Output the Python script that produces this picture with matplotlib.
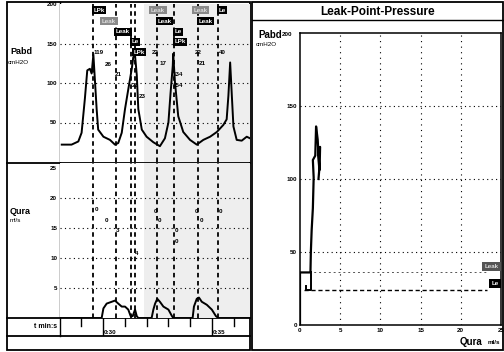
import matplotlib
matplotlib.use("Agg")
import matplotlib.pyplot as plt
from matplotlib.patches import Rectangle
from matplotlib.transforms import blended_transform_factory

W, H = 504, 352
plt.rcParams["font.family"] = ["Liberation Sans", "DejaVu Sans"]
plt.rcParams["font.weight"] = "bold"

# time axis (s) and abdominal pressure trace (cmH2O)
pabd_t = [28.11, 28.56, 28.87, 29.02, 29.17, 29.28, 29.40, 29.48, 29.56, 29.71,
          29.78, 30.02, 30.32, 30.55, 30.70, 30.86, 31.01, 31.16, 31.32, 31.39,
          31.47, 31.55, 31.62, 31.78, 32.00, 32.31, 32.61, 32.84, 33.00, 33.10,
          33.20, 33.22, 33.30, 33.45, 33.68, 33.99, 34.30, 34.60, 34.91, 35.22,
          35.52, 35.67, 35.75, 35.83, 35.90, 35.98, 36.13, 36.36, 36.59, 36.74]
pabd_v = [22, 22, 26, 37, 80, 116, 118, 112, 136, 67,
          41, 32, 28, 22, 24, 37, 67, 92, 118, 133,
          135, 110, 67, 41, 32, 25, 20, 30, 50, 88,
          122, 137, 101, 58, 38, 28, 22, 28, 32, 38,
          47, 54, 84, 126, 88, 45, 28, 27, 32, 30]

# urine flow trace (ml/s)
qura_t = [28.03, 29.94, 30.02, 30.17, 30.40, 30.55, 30.70, 30.86, 31.01, 31.16,
          31.27, 31.36, 31.47, 31.55, 31.62, 32.23, 32.31, 32.39, 32.49, 32.61,
          32.77, 33.00, 33.15, 33.22, 34.11, 34.17, 34.30, 34.40, 34.53, 34.76,
          34.99, 35.18, 35.29, 36.74]
qura_v = [0, 0, 1.6, 2.4, 2.7, 2.9, 2.4, 1.9, 1.9, 1.4,
          0.3, 0.3, 1.4, 0.3, 0,   0,   1.4, 2.4, 3.2, 2.7,
          1.9, 1.4, 0.4, 0,   0,   1.9, 3.2, 3.4, 2.7, 2.2,
          1.4, 0.3, 0,   0]

# event markers
event_t = [29.56, 30.60, 31.27, 31.47, 32.49, 33.27, 34.37, 35.29]
# (label, time, pressure level, dark box?)
event_labels = [("LPk", 29.56, 192, True), ("Leak", 29.95, 178, False),
                ("Leak", 30.60, 165, True), ("Le", 31.30, 152, True),
                ("LPk", 31.40, 139, True), ("Leak", 32.20, 192, False),
                ("Leak", 32.49, 178, True), ("Le", 33.27, 165, True),
                ("LPk", 33.27, 152, True), ("Leak", 34.15, 192, False),
                ("Leak", 34.37, 178, True), ("Le", 35.29, 192, True)]
pabd_notes = [("119", 29.80, 138), ("26", 30.25, 123), ("21", 30.70, 111),
              ("23", 31.50, 97), ("23", 31.80, 83), ("22", 32.40, 139),
              ("17", 32.75, 125), ("134", 33.45, 111), ("154", 33.45, 97),
              ("22", 34.36, 138), ("21", 34.55, 125), ("40", 35.46, 138)]
qura_notes = [("0", 29.72, 18.0), ("0", 30.18, 16.2), ("3", 30.69, 14.5),
              ("4", 31.56, 10.8), ("0", 32.39, 17.8), ("0", 32.61, 16.3),
              ("0", 33.39, 14.5), ("0", 33.39, 12.8), ("0", 34.31, 17.8),
              ("0", 34.50, 16.3), ("0", 35.37, 17.8)]
time_ticks = [29, 30, 31, 32, 33, 34, 35, 36]
time_labels = {30: "0:30", 35: "0:35"}

# leak point pressure plot: Pabd against Qura
lpp_q = [0, 0, 1.3, 1.35, 1.45, 1.6, 1.7, 1.6, 1.9, 2.0, 2.2, 2.4, 2.3, 2.5, 2.45, 2.3]
lpp_p = [0, 36, 36, 50, 65, 80, 101, 113, 116, 136, 127, 106, 120, 122, 110, 100]
lpp_q2 = [0.75, 0.75, 1.4, 1.4]
lpp_p2 = [27, 24, 24, 36]
lpp_levels = [("Leak", 36, False), ("Le", 24, True)]


def px_axes(fig, x0, y0, x1, y1):
    return fig.add_axes([x0 / W, 1 - y1 / H, (x1 - x0) / W, (y1 - y0) / H])


fig = plt.figure(figsize=(W / 100, H / 100), dpi=100)

# frames and static labels
bg = px_axes(fig, 0, 0, W, H)
bg.set_xlim(0, W)
bg.set_ylim(H, 0)
bg.axis("off")
bg.add_patch(Rectangle((7, 2), 243, 348, fill=False, lw=1.3, ec="black"))
bg.add_patch(Rectangle((252, 2), 251, 348, fill=False, lw=1.3, ec="black"))
for yy in (163, 318, 336):
    bg.plot([7, 250], [yy, yy], color="black", lw=1.3)
bg.plot([60, 60], [2, 336], color="black", lw=1.0)
bg.plot([252, 503], [20, 20], color="black", lw=1.0)
bg.text(378, 12, "Leak-Point-Pressure", ha="center", va="center", fontsize=8.5)
bg.text(10, 52, "Pabd", ha="left", va="center", fontsize=6.5)
bg.text(8, 63, "cmH2O", ha="left", va="center", fontsize=4.5, weight="normal")
bg.text(10, 211, "Qura", ha="left", va="center", fontsize=6.5)
bg.text(10, 221, "ml/s", ha="left", va="center", fontsize=4.5, weight="normal")
bg.text(57, 327, "t min:s", ha="right", va="center", fontsize=5)
bg.text(258, 35, "Pabd", ha="left", va="center", fontsize=7)
bg.text(256, 45, "cmH2O", ha="left", va="center", fontsize=4.5, weight="normal")
bg.text(500, 342, "ml/s", ha="right", va="center", fontsize=4.5)
bg.text(482, 342, "Qura", ha="right", va="center", fontsize=7)

x_lo, x_hi = 28.03, 36.74

# Pabd trace
ax_p = px_axes(fig, 60, 4, 250, 162)
ax_p.set_xlim(x_lo, x_hi)
ax_p.set_ylim(0, 200)
ax_p.axvspan(31.9, x_hi, color="#eeeeee", zorder=0, lw=0)
for lv in (50, 100, 150):
    ax_p.axhline(lv, color="black", lw=0.8, ls=(0, (1, 3)))
ax_p.plot(pabd_t, pabd_v, color="black", lw=1.4, zorder=3)
ax_p.set_xticks([])
ax_p.set_yticks([50, 100, 150, 200])
ax_p.tick_params(axis="y", length=0, labelsize=4.5, pad=2)
for s in ax_p.spines.values():
    s.set_visible(False)

# Qura trace
ax_q = px_axes(fig, 60, 163, 250, 318)
ax_q.set_xlim(x_lo, x_hi)
ax_q.set_ylim(0, 25.8)
ax_q.axvspan(31.9, x_hi, color="#eeeeee", zorder=0, lw=0)
for lv in (5, 10, 15, 20):
    ax_q.axhline(lv, color="black", lw=0.8, ls=(0, (1, 3)))
ax_q.plot(qura_t, qura_v, color="black", lw=1.4, zorder=3)
ax_q.set_xticks([])
ax_q.set_yticks([5, 10, 15, 20, 25])
ax_q.tick_params(axis="y", length=0, labelsize=4.5, pad=2)
for s in ax_q.spines.values():
    s.set_visible(False)

for ax in (ax_p, ax_q):
    for et in event_t:
        ax.axvline(et, color="black", lw=1.3, ls=(0, (2.5, 2)), zorder=2)

for lab, tt, lv, dark in event_labels:
    ax_p.text(tt, lv, lab, ha="left", va="center", fontsize=4.5,
              color="white" if dark else "#dddddd", zorder=5,
              bbox=dict(boxstyle="square,pad=0.25",
                        fc="black" if dark else "#8a8a8a", ec="none"))
for lab, tt, lv in pabd_notes:
    ax_p.text(tt, lv, lab, ha="center", va="center", fontsize=4.5, zorder=4)
for lab, tt, lv in qura_notes:
    ax_q.text(tt, lv, lab, ha="center", va="center", fontsize=4.5, zorder=4)

# time strip
ax_t = px_axes(fig, 60, 318, 250, 336)
ax_t.set_xlim(x_lo, x_hi)
ax_t.set_ylim(0, 1)
ax_t.axis("off")
for tt in time_ticks:
    top = 0.0 if tt in time_labels else 0.55
    ax_t.plot([tt, tt], [top, 1], color="black", lw=1.0)
trans = blended_transform_factory(ax_t.transData, ax_t.transAxes)
for tt, lab in time_labels.items():
    ax_t.text(tt + 0.03, 0.22, lab, ha="left", va="center", fontsize=4.5,
              transform=trans)

# leak point pressure plot
ax_r = px_axes(fig, 300, 33, 501, 325)
ax_r.set_xlim(0, 25)
ax_r.set_ylim(0, 200)
for xv in (5, 10, 15, 20):
    ax_r.axvline(xv, color="black", lw=0.8, ls=(0, (1, 4)))
for lv in (50, 100, 150):
    ax_r.axhline(lv, color="black", lw=0.8, ls=(0, (1, 3)))
for lab, lv, dark in lpp_levels:
    ax_r.plot([0.5, 23.2], [lv, lv], color="black" if dark else "#555555",
              lw=1.0 if dark else 0.7,
              ls=(0, (3, 2)) if dark else (0, (2, 3)))
    ax_r.text(24.7, lv + 2.5, lab, ha="right", va="bottom", fontsize=4.5,
              color="white" if dark else "#dddddd", zorder=5,
              bbox=dict(boxstyle="square,pad=0.35",
                        fc="black" if dark else "#555555", ec="none"))
ax_r.plot(lpp_q, lpp_p, color="black", lw=1.6, zorder=4)
ax_r.plot(lpp_q2, lpp_p2, color="black", lw=1.4, zorder=4)
ax_r.set_xticks([0, 5, 10, 15, 20, 25])
ax_r.set_yticks([0, 50, 100, 150])
ax_r.tick_params(length=0, labelsize=4.5, pad=2)
for s in ax_r.spines.values():
    s.set_linewidth(1.1)
bg.text(292, 34, "200", ha="right", va="center", fontsize=4.5)

fig.savefig("out.png", dpi=100)
